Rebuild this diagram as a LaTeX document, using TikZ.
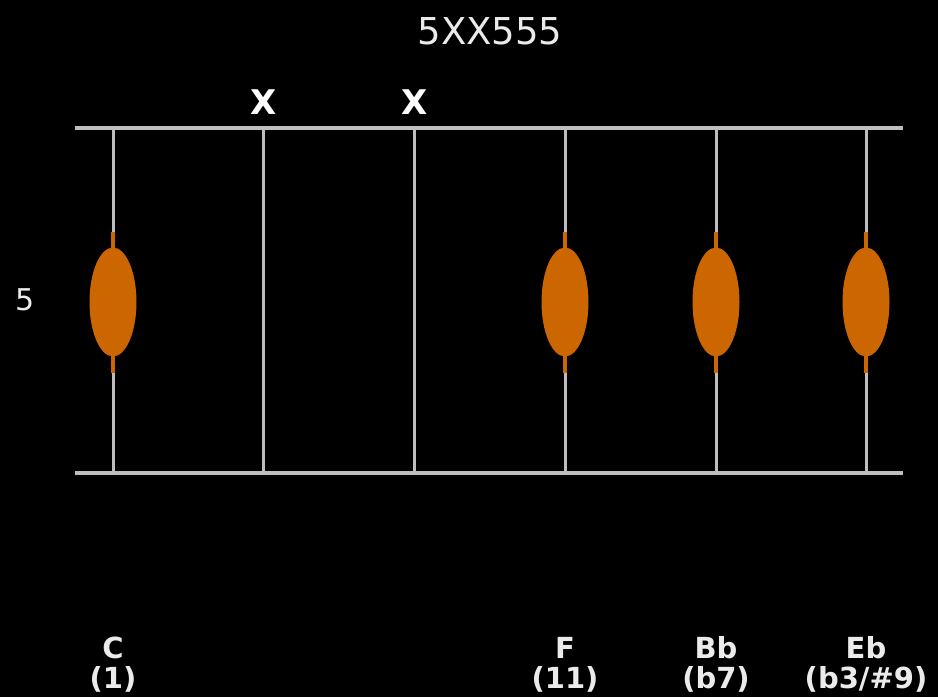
\documentclass[tikz,border=0pt]{standalone}
\usepackage{fontspec}
\setmainfont{DejaVu Sans}
\usetikzlibrary{shapes.geometric}
\definecolor{wiregray}{RGB}{190,190,190}
\definecolor{dotorange}{RGB}{204,102,0}
\definecolor{textgray}{RGB}{235,235,235}
\begin{document}
\begin{tikzpicture}[
	x=1pt, y=-1pt,
	fret/.style={ wiregray, line width=4pt },
	string/.style={ wiregray, line width=3pt },
	hilite/.style={ dotorange, line width=4pt },
	dot/.style={ ellipse, fill=dotorange, inner sep=0pt, minimum width=47pt, minimum height=109pt },
	mute/.style={ white, font=\bfseries\fontsize{34}{34}\selectfont, anchor=base, inner sep=0pt },
	note/.style={ textgray, font=\bfseries\fontsize{29}{30}\selectfont, align=center, anchor=base, inner sep=0pt }
]

\fill[black] (0,0) rectangle (938,697);
\useasboundingbox (0,0) rectangle (938,697);

\node[textgray, font=\fontsize{37}{37}\selectfont, anchor=base, inner sep=0pt] (title) at (490,44) {5XX555};
\node[textgray, font=\fontsize{30}{30}\selectfont, anchor=base, inner sep=0pt] (fretno) at (25,310) {5};

\coordinate (f1l) at (75,128);
\coordinate (f1r) at (903,128);
\coordinate (f2l) at (75,473);
\coordinate (f2r) at (903,473);
\draw[fret] (f1l) -- (f1r);
\draw[fret] (f2l) -- (f2r);

\coordinate (s1t) at (113,128);
\coordinate (s1b) at (113,473);
\coordinate (s2t) at (263,128);
\coordinate (s2b) at (263,473);
\coordinate (s3t) at (414,128);
\coordinate (s3b) at (414,473);
\coordinate (s4t) at (565,128);
\coordinate (s4b) at (565,473);
\coordinate (s5t) at (716,128);
\coordinate (s5b) at (716,473);
\coordinate (s6t) at (866,128);
\coordinate (s6b) at (866,473);
\draw[string] (s1t) -- (s1b);
\draw[string] (s2t) -- (s2b);
\draw[string] (s3t) -- (s3b);
\draw[string] (s4t) -- (s4b);
\draw[string] (s5t) -- (s5b);
\draw[string] (s6t) -- (s6b);

\node[mute] (m2) at (264,114) {X};
\node[mute] (m3) at (415,114) {X};

\coordinate (h1t) at (113,232);
\coordinate (h1b) at (113,373);
\coordinate (h4t) at (565,232);
\coordinate (h4b) at (565,373);
\coordinate (h5t) at (716,232);
\coordinate (h5b) at (716,373);
\coordinate (h6t) at (866,232);
\coordinate (h6b) at (866,373);
\draw[hilite] (h1t) -- (h1b);
\draw[hilite] (h4t) -- (h4b);
\draw[hilite] (h5t) -- (h5b);
\draw[hilite] (h6t) -- (h6b);

\node[dot] (d1) at (113,302) {};
\node[dot] (d4) at (565,302) {};
\node[dot] (d5) at (716,302) {};
\node[dot] (d6) at (866,302) {};

% anchor=base sits on the last line
\node[note] (n1) at (113,688) {C\\(1)};
\node[note] (n4) at (565,688) {F\\(11)};
\node[note] (n5) at (716,688) {Bb\\(b7)};
\node[note] (n6) at (866,688) {Eb\\(b3/\#9)};

\end{tikzpicture}
\end{document}
